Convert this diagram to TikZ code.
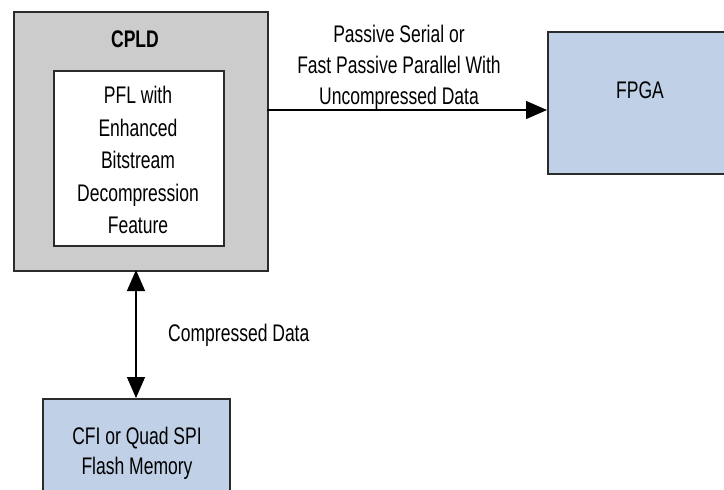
\documentclass[tikz,border=0pt]{standalone}
\usepackage{fontspec}
\setmainfont[FakeStretch=0.73]{Liberation Sans}
\usetikzlibrary{arrows.meta}
\definecolor{boxgray}{HTML}{CCCCCC}
\definecolor{boxblue}{HTML}{C0D0E6}
\definecolor{edge}{HTML}{2B2B2B}
\begin{document}
\begin{tikzpicture}[x=1pt,y=-1pt,
  blk/.style={draw=edge,line width=1.5pt},
  lbl/.style={font=\fontsize{24}{32}\selectfont,align=center,inner sep=0pt},
  conn/.style={line width=1.4pt}]
\useasboundingbox (0,0) rectangle (724,490);
\clip (0,0) rectangle (724,490);
% CPLD
\node[blk,fill=boxgray,minimum width=254pt,minimum height=259pt,anchor=north west,inner sep=0pt] (cpld) at (13,11) {};
\node[lbl,font=\fontsize{24}{32}\selectfont\bfseries] (cpldt) at (135,39) {CPLD};
\node[blk,fill=white,minimum width=170pt,minimum height=175pt,anchor=north west,inner sep=0pt] (pfl) at (53,70) {};
\node[lbl,font=\fontsize{24}{32.5}\selectfont] (pflt) at (138,160) {PFL with\\Enhanced\\Bitstream\\Decompression\\Feature};
% FPGA
\node[blk,fill=boxblue,minimum width=200pt,minimum height=142pt,anchor=north west,inner sep=0pt] (fpga) at (547,31) {};
\node[lbl] (fpgat) at (640,90) {FPGA};
% Flash
\node[blk,fill=boxblue,minimum width=187pt,minimum height=120pt,anchor=north west,inner sep=0pt] (flash) at (42,398) {};
\node[lbl,font=\fontsize{24}{30}\selectfont] (flasht) at (137,453) {CFI or Quad SPI\\Flash Memory};
% connectors
\coordinate (a1) at (267,110);
\coordinate (a2) at (547,110);
\draw[conn,-{Triangle[length=21pt,width=18pt]}] (a1) -- (a2);
\node[lbl,font=\fontsize{24}{31}\selectfont] (ptext) at (399,67) {Passive Serial or\\Fast Passive Parallel With\\Uncompressed Data};
\coordinate (b1) at (136,270);
\coordinate (b2) at (136,398);
\draw[conn,{Triangle[length=21pt,width=18pt]}-{Triangle[length=21pt,width=18pt]}] (b1) -- (b2);
\node[lbl,anchor=west] (ctext) at (168,335) {Compressed Data};
\end{tikzpicture}
\end{document}
